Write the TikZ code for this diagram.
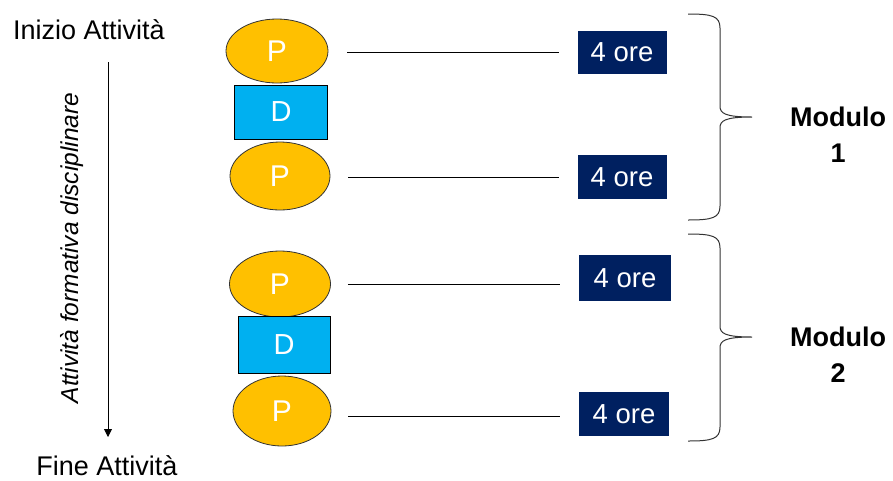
\documentclass[tikz,border=0pt]{standalone}
\usepackage{fontspec}
\setmainfont{Liberation Sans}
\usetikzlibrary{arrows.meta,shapes.geometric}
\definecolor{pgold}{HTML}{FFC000}
\definecolor{dblue}{HTML}{00B0F0}
\definecolor{navy}{HTML}{002060}
\definecolor{edge}{HTML}{333333}
\begin{document}
\begin{tikzpicture}[x=1pt,y=-1pt,
  ptext/.style={inner sep=0pt,font=\fontsize{27}{30}\selectfont},
  pnode/.style={ellipse,draw=edge,line width=0.8pt,fill=pgold,text=white,
    inner sep=0pt,font=\fontsize{30}{32}\selectfont},
  dnode/.style={rectangle,draw=black,line width=0.8pt,fill=dblue,text=white,
    inner sep=0pt,font=\fontsize{29}{32}\selectfont},
  hours/.style={rectangle,fill=navy,text=white,inner sep=0pt,
    minimum width=90pt,minimum height=44pt,font=\fontsize{27.5}{30}\selectfont},
  link/.style={draw=black,line width=0.8pt},
  brace/.style={draw=black!80,line width=1pt},
  modlabel/.style={align=center,font=\bfseries\fontsize{27}{36}\selectfont}]
\useasboundingbox (0,0) rectangle (893,480);

% start / end labels and the timeline arrow
\node[ptext] (start) at (89,30) {Inizio Attività};
\node[ptext] (finish) at (107,466) {Fine Attività};
\coordinate (atop) at (108,62);
\coordinate (abot) at (108,437);
\draw[line width=0.9pt,-{Triangle[length=8pt,width=8pt]}] (atop) -- (abot);
\node[rotate=90,font=\itshape\fontsize{24.5}{28}\selectfont] (axis) at (72,248)
  {Attività formativa disciplinare};

% module 1
\node[pnode,minimum width=102pt,minimum height=64pt] (p1) at (277,51) {P};
\node[dnode,minimum width=93pt,minimum height=54pt] (d1) at (281,112) {D};
\node[pnode,minimum width=100pt,minimum height=68pt] (p2) at (280,176) {P};
% module 2
\node[pnode,minimum width=101pt,minimum height=66pt] (p3) at (280,284) {P};
\node[dnode,minimum width=92pt,minimum height=57pt] (d2) at (284,345) {D};
\node[pnode,minimum width=98pt,minimum height=70pt] (p4) at (282,411) {P};

% duration boxes
\node[hours,minimum width=89pt,minimum height=43pt] (h1) at (622,52) {4 ore};
\node[hours,minimum width=89pt,minimum height=44pt] (h2) at (622,177) {4 ore};
\node[hours,minimum width=92pt,minimum height=46pt] (h3) at (625,278) {4 ore};
\node[hours,minimum width=90pt,minimum height=44pt] (h4) at (624,414) {4 ore};

% connectors
\draw[link,shorten <=19pt,shorten >=18pt] (p1.east |- h1.west) -- (h1.west);
\draw[link,shorten <=18pt,shorten >=18pt] (p2.east |- h2.west) -- (h2.west);
\draw[link,shorten <=17pt,shorten >=19pt] (p3.east |- 0,284) -- (h3.west |- 0,284);
\draw[link,shorten <=17pt,shorten >=19pt] (p4.east |- 0,416) -- (h4.west |- 0,416);

% braces
\coordinate (b1top) at (688,14);
\coordinate (b1tip) at (752,117);
\coordinate (b1bot) at (688,220);
\draw[brace] (b1top) .. controls (712,14) and (720,16) .. (720,28)
  -- (720,106) .. controls (720,113) and (724,117) .. (b1tip)
  .. controls (724,117) and (720,121) .. (720,128)
  -- (720,206) .. controls (720,218) and (712,220) .. (b1bot);
\coordinate (b2top) at (688,234);
\coordinate (b2tip) at (752,337);
\coordinate (b2bot) at (688,441);
\draw[brace] (b2top) .. controls (712,234) and (720,236) .. (720,248)
  -- (720,326) .. controls (720,333) and (724,337) .. (b2tip)
  .. controls (724,337) and (720,341) .. (720,348)
  -- (720,427) .. controls (720,439) and (712,441) .. (b2bot);

% module labels
\node[modlabel] (m1) at (838,135) {Modulo\\1};
\node[modlabel] (m2) at (838,355) {Modulo\\2};
\end{tikzpicture}
\end{document}
